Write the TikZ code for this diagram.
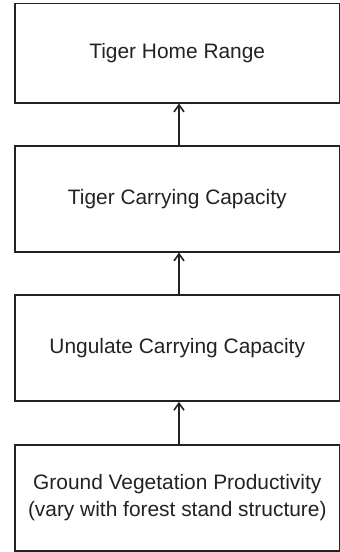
\documentclass[tikz,border=0pt]{standalone}
\usepackage{fontspec}
\setmainfont{Liberation Sans}
\usetikzlibrary{arrows.meta}
\definecolor{ink}{HTML}{222222}
\begin{document}
\begin{tikzpicture}[x=1pt,y=-1pt,
  boxstyle/.style={draw=ink, line width=1.6pt, rectangle, inner sep=0pt,
    minimum width=324.5pt, text=ink, align=center,
    font=\fontsize{20.9}{27}\selectfont},
  linkstyle/.style={draw=ink, line width=1.6pt, -{Straight Barb[length=7pt,width=10pt]}}]
\useasboundingbox (0,0) rectangle (340,552);
\node[boxstyle, minimum height=99.2pt] (b1) at (177.25,53.1) {Tiger Home Range};
\node[boxstyle, minimum height=106pt] (b2) at (177.25,198.7) {Tiger Carrying Capacity};
\node[boxstyle, minimum height=106pt] (b3) at (177.25,348) {Ungulate Carrying Capacity};
\node[boxstyle, minimum height=106pt] (b4) at (177.25,498) {Ground Vegetation Productivity\\(vary with forest stand structure)};
\draw[linkstyle] ([xshift=1.75pt]b2.north) -- ([xshift=1.75pt]b1.south);
\draw[linkstyle] ([xshift=1.75pt]b3.north) -- ([xshift=1.75pt]b2.south);
\draw[linkstyle] ([xshift=1.75pt]b4.north) -- ([xshift=1.75pt]b3.south);
\end{tikzpicture}
\end{document}
